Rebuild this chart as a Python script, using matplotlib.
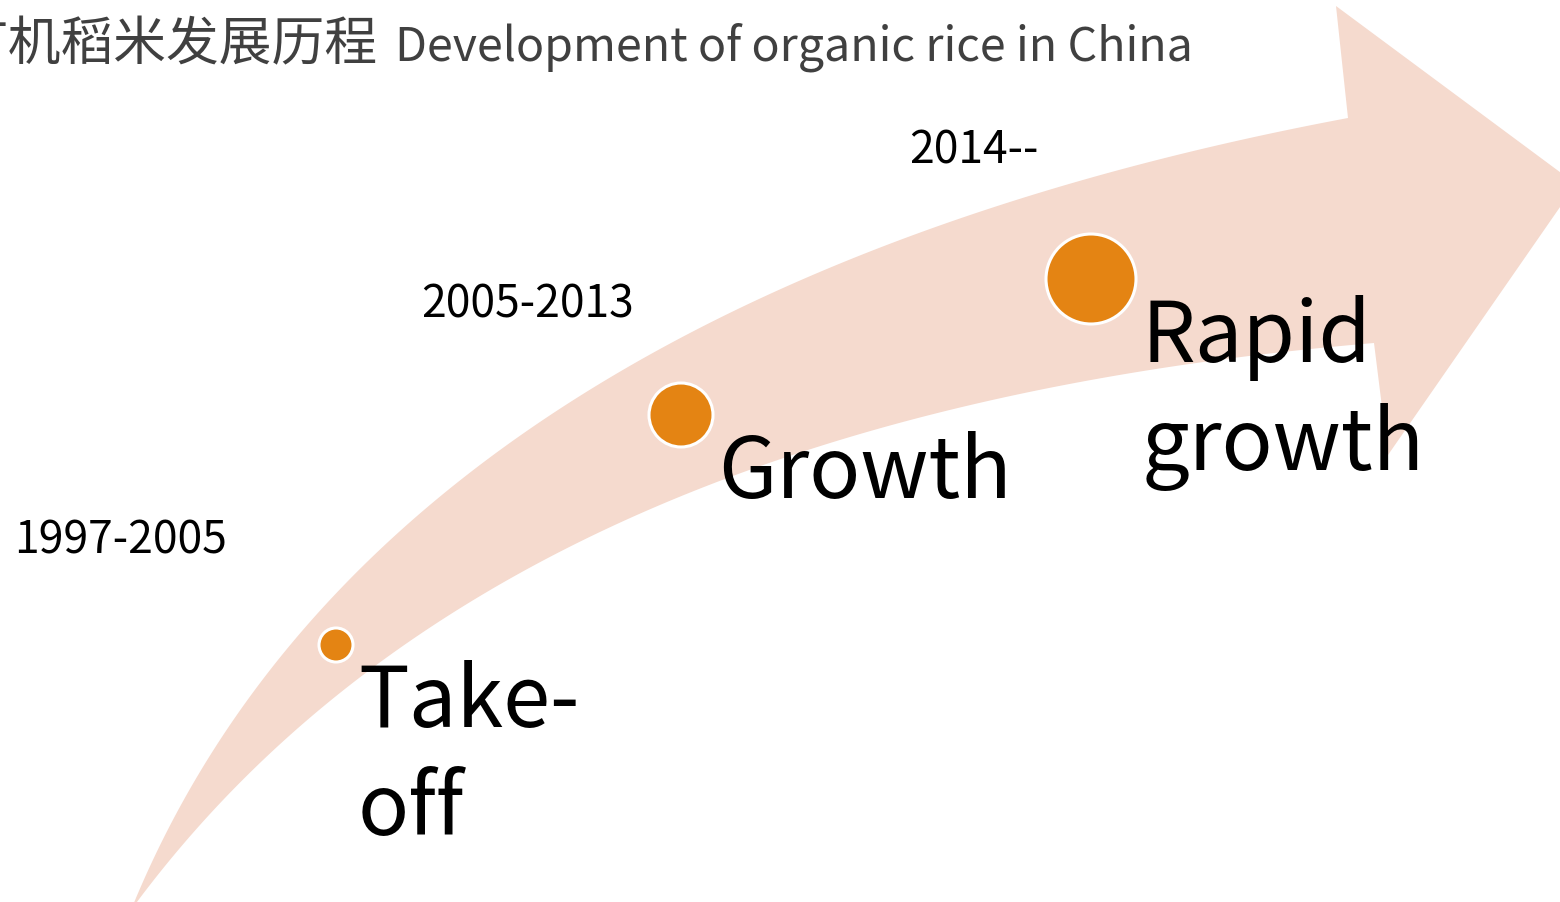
import matplotlib
matplotlib.use("Agg")
import matplotlib.pyplot as plt
import numpy as np
from matplotlib.patches import Polygon, Circle

plt.rcParams['font.family'] = ['Noto Sans CJK SC', 'DejaVu Sans']

# data
title_cn = "有机稻米发展历程"
title_en = "Development of organic rice in China"
stages = [["Take-", "off"], ["Growth"], ["Rapid", "growth"]]
periods = ["1997-2005", "2005-2013", "2014--"]
dot_radius = [17, 32, 45]          # size of each stage dot grows with stage

# layout (pixel units, y grows downward)
dot_xy = [(336, 645), (681, 415), (1091, 279)]
stage_xy = [(358, 727), (718, 498), (1142, 362)]
period_xy = [(14, 553), (421, 318), (909, 163)]
line_step = 108

# arrow outline guide points
upper = [(131, 910), (270, 670), (380, 552), (500, 447), (680, 337),
         (800, 280), (1017, 203), (1183, 153), (1348, 118)]
lower = [(131, 910), (233, 807), (363, 672), (473, 600), (540, 560), (680, 493),
         (800, 450), (1117, 383), (1374, 343)]
head = [(1348, 118), (1336, 6), (1576, 184), (1388, 455), (1374, 343)]

peach = "#F5DACE"
orange = "#E48413"


def smooth(pts, n=200):
    pts = np.asarray(pts, float)
    d = np.r_[0, np.cumsum(np.hypot(*np.diff(pts, axis=0).T))]
    t = d / d[-1]
    w = np.ones(len(t))
    w[0] = w[-1] = 50
    tt = np.linspace(0, 1, n)
    x = np.polyval(np.polyfit(t, pts[:, 0], 3, w=w), tt)
    y = np.polyval(np.polyfit(t, pts[:, 1], 3, w=w), tt)
    x[0], y[0] = pts[0]
    x[-1], y[-1] = pts[-1]
    return np.column_stack([x, y])


fig = plt.figure(figsize=(15.6, 9.02), dpi=100)
ax = fig.add_axes([0, 0, 1, 1])
ax.set_xlim(0, 1560)
ax.set_ylim(902, 0)
ax.axis("off")

up = smooth(upper)
lo = smooth(lower)[::-1]
outline = np.vstack([up, np.array(head[1:-1], float), lo])
ax.add_patch(Polygon(outline, closed=True, facecolor=peach, edgecolor="none", zorder=1))

for (x, y), r in zip(dot_xy, dot_radius):
    ax.add_patch(Circle((x, y), r, facecolor=orange, edgecolor="white", linewidth=2.2, zorder=3))

for lines, (x, y) in zip(stages, stage_xy):
    for i, s in enumerate(lines):
        ax.text(x, y + i * line_step, s, fontsize=61, color="black",
                ha="left", va="baseline", zorder=4)

for p, (x, y) in zip(periods, period_xy):
    ax.text(x, y, p, fontsize=32, color="black", ha="left", va="baseline", zorder=4)

# title runs off the left edge, as in the original slide
ax.text(-44, 60, title_cn, fontsize=38, color="#404040", ha="left", va="baseline", zorder=4)
ax.text(395, 60, title_en, fontsize=33.5, color="#404040", ha="left", va="baseline", zorder=4)

plt.savefig("out.png", dpi=100)
